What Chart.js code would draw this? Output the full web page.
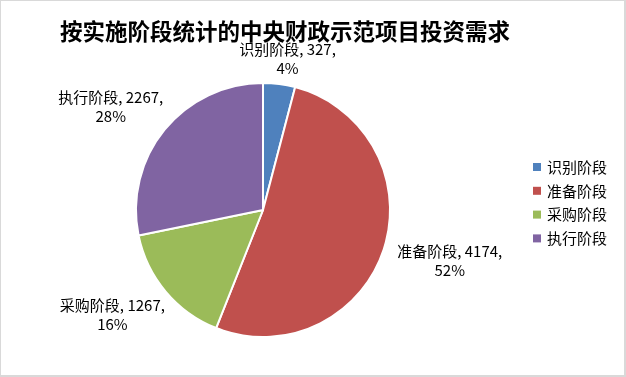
<!DOCTYPE html>
<html>
<head>
<meta charset="utf-8">
<script src="https://cdn.jsdelivr.net/npm/chart.js@4/dist/chart.umd.min.js"></script>
<style>
  html, body { margin: 0; padding: 0; background: #fff; }
  #box {
    position: relative;
    width: 626px;
    height: 377px;
    box-sizing: border-box;
    border-style: solid;
    border-color: #d9d9d9;
    border-width: 1px 2px 2px 1px;
    background: #fff;
  }
  #chart { display: block; }
</style>
</head>
<body>
<div id="box"><canvas id="chart" width="623" height="374"></canvas></div>
<script>
// data
const titleText = "按实施阶段统计的中央财政示范项目投资需求";
const stages = ["识别阶段", "准备阶段", "采购阶段", "执行阶段"];
const investment = [327, 4174, 1267, 2267];
const sliceColors = ["#4F81BD", "#C0504D", "#9BBB59", "#8064A2"];

const FONT = '"Noto Sans CJK SC", "Noto Sans", sans-serif';

// title, legend and outside-end labels
const decorations = {
  id: "decorations",
  afterDraw(chart) {
    const ctx = chart.ctx;
    const total = investment.reduce((a, b) => a + b, 0);
    ctx.save();

    // title
    ctx.fillStyle = "#000";
    ctx.font = "bold 22.5px " + FONT;
    ctx.textAlign = "center";
    ctx.textBaseline = "middle";
    ctx.fillText(titleText, 284, 30);
    const titleBottom = 39; // labels are kept below the title

    // legend
    ctx.font = "15px " + FONT;
    ctx.textAlign = "left";
    stages.forEach((name, i) => {
      const y = 166 + i * 23.8;
      ctx.fillStyle = sliceColors[i];
      ctx.fillRect(532, y - 4, 8, 8);
      ctx.fillStyle = "#000";
      ctx.fillText(name, 546, y);
    });

    // data labels, outside end
    const arcs = chart.getDatasetMeta(0).data;
    const lineH = 19;
    const pad = 16;
    arcs.forEach((arc, i) => {
      const mid = (arc.startAngle + arc.endAngle) / 2;
      const dx = Math.cos(mid), dy = Math.sin(mid);
      const lines = [
        stages[i] + ", " + investment[i] + ",",
        Math.round(investment[i] / total * 100) + "%"
      ];
      const w = Math.max(...lines.map(t => ctx.measureText(t).width));
      const h = lineH * lines.length;
      const ax = arc.x + dx * (arc.outerRadius + 9);
      const ay = arc.y + dy * (arc.outerRadius + 9);
      const cx = ax + dx * (w + pad) / 2;
      let cy = ay + dy * (h + pad) / 2;
      if (cy - h / 2 < titleBottom) cy = titleBottom + h / 2;
      ctx.fillStyle = "#000";
      ctx.textAlign = "center";
      lines.forEach((t, k) => {
        ctx.fillText(t, cx, cy - h / 2 + lineH * (k + 0.5));
      });
    });
    ctx.restore();
  }
};

new Chart(document.getElementById("chart"), {
  type: "pie",
  data: {
    labels: stages,
    datasets: [{
      data: investment,
      backgroundColor: sliceColors,
      borderColor: "#fff",
      borderWidth: 2
    }]
  },
  options: {
    responsive: false,
    animation: false,
    layout: { padding: { top: 81, bottom: 37, left: 0, right: 99 } },
    plugins: {
      legend: { display: false },
      title: { display: false },
      tooltip: { enabled: false }
    }
  },
  plugins: [decorations]
});
</script>
</body>
</html>
